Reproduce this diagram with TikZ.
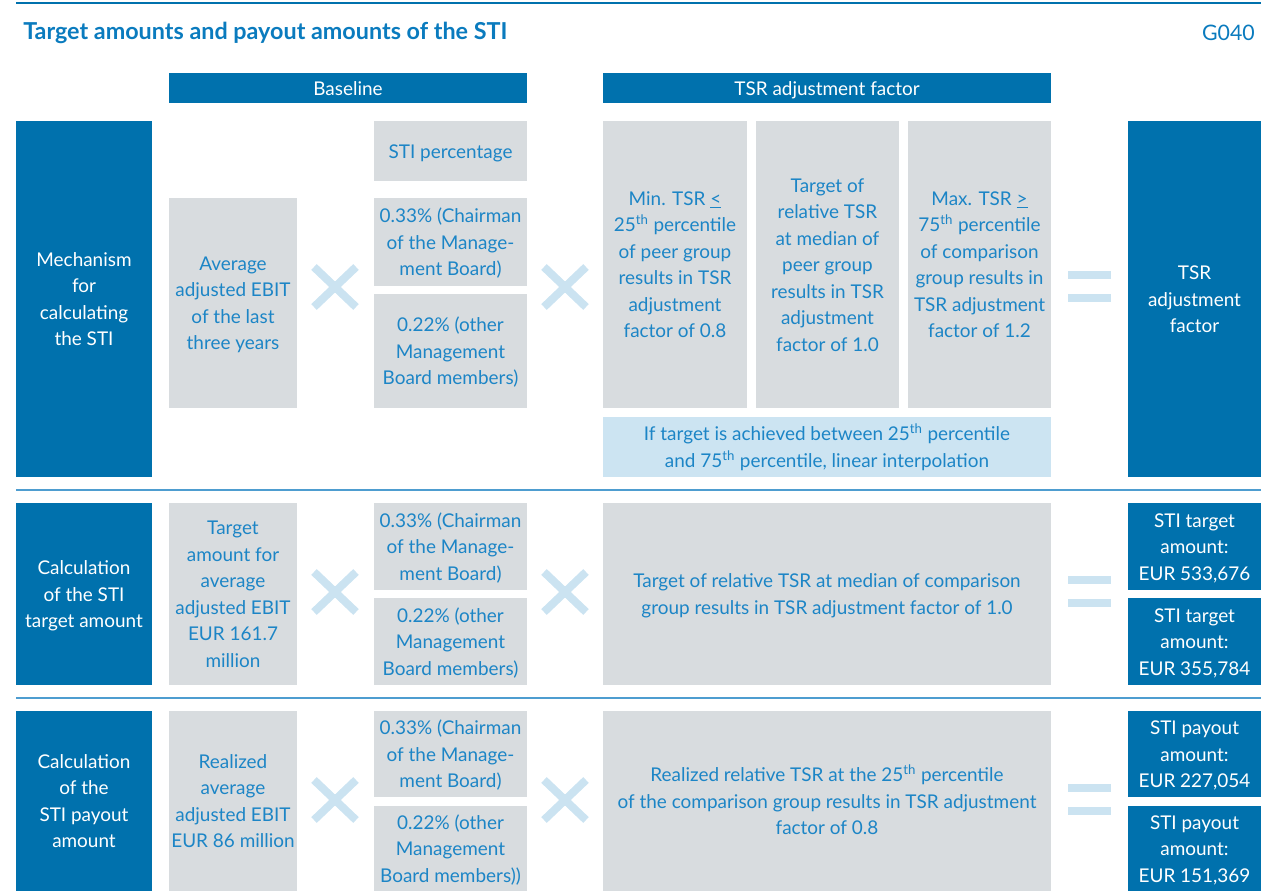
\documentclass[tikz,border=0pt]{standalone}
\usepackage{fontspec}
\setmainfont{Lato}
\usetikzlibrary{calc}
\definecolor{darkblue}{HTML}{0071AD}
\definecolor{boxgray}{HTML}{D8DCDF}
\definecolor{lightblue}{HTML}{CCE4F2}
\definecolor{txtblue}{HTML}{1C85C6}
\definecolor{titleblue}{HTML}{0A7BBE}
\definecolor{sepblue}{HTML}{4E9DD0}
\definecolor{markblue}{HTML}{CBE3F1}
\newcommand\mystrut{\rule[-4.6pt]{0pt}{19.9pt}}
\tikzset{
  box/.style={inner sep=0pt, outer sep=0pt, align=center, font=\fontsize{14.2}{19.9}\selectfont,
    execute at end node=\mystrut},
  dark/.style={box, fill=darkblue, text=white},
  grey/.style={box, fill=boxgray, text=txtblue},
  light/.style={box, fill=lightblue, text=txtblue},
  sepline/.style={draw=sepblue, line width=1.5pt},
  topline/.style={draw=darkblue, line width=2.2pt},
  crossmark/.style={draw=markblue, line width=6pt},
  eqbar/.style={fill=markblue},
}
\newcommand\Bx[7]{\node[#6, minimum width={(#4-#2)*0.75pt}, minimum height={(#5-#3)*0.75pt}] (#1) at ({(#2+#4)/2},{(#3+#5)/2}) {\mystrut#7};}
\newcommand\Cross[3]{\coordinate (#1) at (#2,#3);
  \draw[crossmark] ($(#1)+(-21,-20)$) -- ($(#1)+(21,20)$) ($(#1)+(-21,20)$) -- ($(#1)+(21,-20)$);}
\newcommand\Equal[3]{\coordinate (#1) at (#2,#3);
  \fill[eqbar] ($(#1)+(-21.5,-15.5)$) rectangle ($(#1)+(21.5,-7.5)$);
  \fill[eqbar] ($(#1)+(-21.5,7)$) rectangle ($(#1)+(21.5,15)$);}
\newcommand\thp{\textsuperscript{th}}
\begin{document}
\begin{tikzpicture}[x=0.75pt,y=-0.75pt]
\useasboundingbox (0,0) rectangle (1261,891);
% top rule and title
\coordinate (tl) at (16,3); \coordinate (tr) at (1261,3);
\draw[topline] (tl) -- (tr);
\node[anchor=west, inner sep=0pt, text=titleblue, font=\fontsize{17.5}{20}\selectfont\bfseries] (title) at (23,33) {Target amounts and payout amounts of the STI};
\node[anchor=east, inner sep=0pt, text=titleblue, font=\fontsize{16}{20}\selectfont] (code) at (1255,33) {G040};
% headers
\Bx{hbase}{169}{73}{527}{103}{dark}{Baseline}
\Bx{htsr}{603}{73}{1051}{103}{dark}{TSR adjustment factor}
% row 1
\Bx{r1l}{16}{121}{152}{477}{dark}{Mechanism\\for\\calculating\\the STI}
\Bx{r1a}{169}{198}{297}{408}{grey}{Average\\adjusted EBIT\\of the last\\three years}
\Bx{r1p}{374}{121}{527}{181}{grey}{STI percentage}
\Bx{r1c}{374}{198}{527}{286}{grey}{0.33\% (Chairman\\of the Manage-\\ment Board)}
\Bx{r1o}{374}{294}{527}{408}{grey}{0.22\% (other\\Management\\Board members)}
\Bx{r1t1}{603}{121}{747}{408}{grey}{Min. TSR \underline{<}\\25\thp{} percentile\\of peer group\\results in TSR\\adjustment\\factor of 0.8}
\Bx{r1t2}{756}{121}{899}{408}{grey}{Target of\\relative TSR\\at median of\\peer group\\results in TSR\\adjustment\\factor of 1.0}
\Bx{r1t3}{908}{121}{1051}{408}{grey}{Max. TSR \underline{>}\\75\thp{} percentile\\of comparison\\group results in\\TSR adjustment\\factor of 1.2}
\Bx{r1i}{603}{417}{1051}{477}{light}{If target is achieved between 25\thp{} percentile\\and 75\thp{} percentile, linear interpolation}
\Bx{r1r}{1128}{121}{1261}{477}{dark}{TSR\\adjustment\\factor}
\Cross{x11}{335}{287}
\Cross{x12}{565}{287}
\Equal{e1}{1089.5}{287}
\coordinate (s1l) at (16,490); \coordinate (s1r) at (1261,490);
\draw[sepline] (s1l) -- (s1r);
% row 2
\Bx{r2l}{16}{503}{152}{685}{dark}{Calculation\\of the STI\\target amount}
\Bx{r2a}{169}{503}{297}{685}{grey}{Target\\amount for\\average\\adjusted EBIT\\EUR 161.7\\million}
\Bx{r2c}{374}{503}{527}{590}{grey}{0.33\% (Chairman\\of the Manage-\\ment Board)}
\Bx{r2o}{374}{598}{527}{685}{grey}{0.22\% (other\\Management\\Board members)}
\Bx{r2t}{603}{503}{1051}{685}{grey}{Target of relative TSR at median of comparison\\group results in TSR adjustment factor of 1.0}
\Bx{r2r1}{1128}{503}{1261}{590}{dark}{STI target\\amount:\\EUR 533,676}
\Bx{r2r2}{1128}{598}{1261}{685}{dark}{STI target\\amount:\\EUR 355,784}
\Cross{x21}{335}{592}
\Cross{x22}{565}{592}
\Equal{e2}{1089.5}{591.5}
\coordinate (s2l) at (16,698); \coordinate (s2r) at (1261,698);
\draw[sepline] (s2l) -- (s2r);
% row 3
\Bx{r3l}{16}{711}{152}{891}{dark}{Calculation\\of the\\STI payout\\amount}
\Bx{r3a}{169}{711}{297}{891}{grey}{Realized\\average\\adjusted EBIT\\EUR 86 million}
\Bx{r3c}{374}{711}{527}{797}{grey}{0.33\% (Chairman\\of the Manage-\\ment Board)}
\Bx{r3o}{374}{806}{527}{891}{grey}{0.22\% (other\\Management\\Board members))}
\Bx{r3t}{603}{711}{1051}{891}{grey}{Realized relative TSR at the 25\thp{} percentile\\of the comparison group results in TSR adjustment\\factor of 0.8}
\Bx{r3r1}{1128}{711}{1261}{797}{dark}{STI payout\\amount:\\EUR 227,054}
\Bx{r3r2}{1128}{806}{1261}{891}{dark}{STI payout\\amount:\\EUR 151,369}
\Cross{x31}{335}{800}
\Cross{x32}{565}{800}
\Equal{e3}{1089.5}{799.5}
\end{tikzpicture}
\end{document}
